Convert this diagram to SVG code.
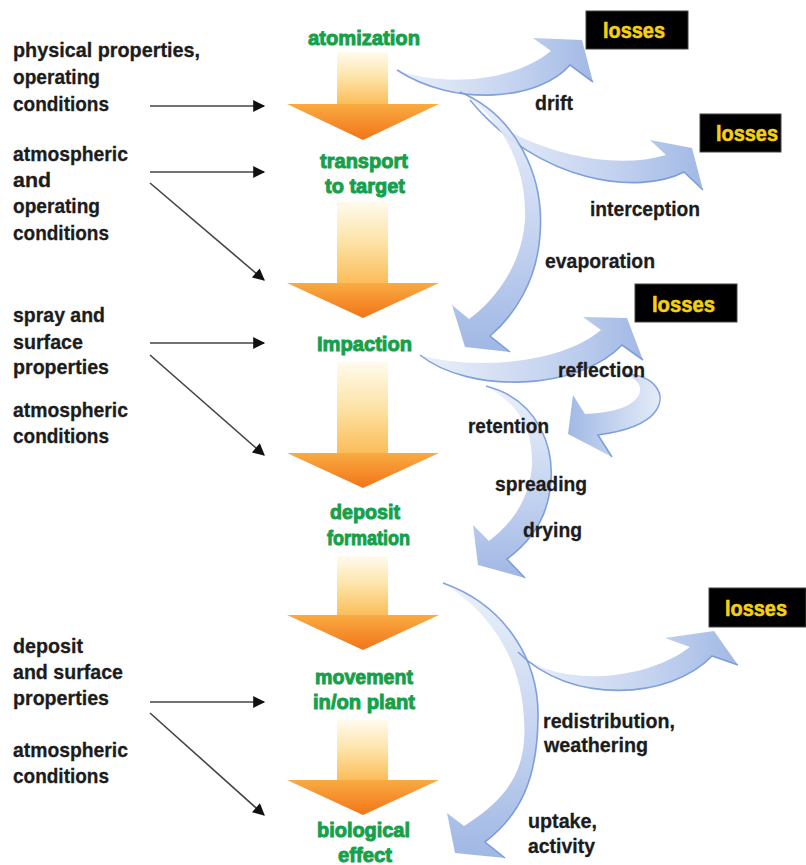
<svg xmlns="http://www.w3.org/2000/svg" width="806" height="865" viewBox="0 0 806 865">
<defs>
<style>
.lt{font-family:"Liberation Sans","DejaVu Sans",sans-serif;font-weight:bold;font-size:21px;fill:#1c1c1c;stroke:#1c1c1c;stroke-width:0.3}
.st{font-family:"Liberation Sans","DejaVu Sans",sans-serif;font-weight:bold;font-size:21px;fill:#16a04a;stroke:#16a04a;stroke-width:1;text-anchor:start}
.ls{font-family:"Liberation Sans","DejaVu Sans",sans-serif;font-weight:bold;font-size:22px;fill:#f5cf14;stroke:#f5cf14;stroke-width:0.6}
.box{fill:#000;stroke:#444;stroke-width:1}
.inp{stroke:#444;stroke-width:1.6;fill:none;marker-end:url(#ah)}
.shaft{fill:url(#og1)}
.head{fill:url(#og2)}
.edge{fill:none;stroke:#6f93d6;stroke-width:1.6;stroke-opacity:0.85}
</style>
<linearGradient id="og1" x1="0" y1="0" x2="0" y2="1">
<stop offset="0" stop-color="#fffbee"/>
<stop offset="0.5" stop-color="#fde3a6"/>
<stop offset="1" stop-color="#fbbd5a"/>
</linearGradient>
<linearGradient id="og2" x1="0" y1="0" x2="0" y2="1">
<stop offset="0" stop-color="#f9ab42"/>
<stop offset="1" stop-color="#f27418"/>
</linearGradient>
<linearGradient id="bh" x1="0" y1="0" x2="1" y2="0">
<stop offset="0" stop-color="#eaf0fa"/>
<stop offset="0.6" stop-color="#bfcfee"/>
<stop offset="1" stop-color="#9ab3e3"/>
</linearGradient>
<linearGradient id="bhr" x1="1" y1="0" x2="0" y2="0">
<stop offset="0" stop-color="#e2eaf8"/>
<stop offset="1" stop-color="#9ab3e3"/>
</linearGradient>
<linearGradient id="bv" x1="0" y1="0" x2="0" y2="1">
<stop offset="0" stop-color="#eaf0fa"/>
<stop offset="0.6" stop-color="#bccdee"/>
<stop offset="1" stop-color="#98b1e2"/>
</linearGradient>
<marker id="ah" viewBox="0 0 10 10" refX="9" refY="5" markerWidth="15" markerHeight="12" markerUnits="userSpaceOnUse" orient="auto">
<path d="M0,0 L10,5 L0,10 z" fill="#111"/>
</marker>
</defs>
<rect width="806" height="865" fill="#fff"/>

<g id="connectors">
  <g id="orange-arrows">
    <rect class="shaft" x="337" y="52" width="51" height="52"/>
    <path class="head" d="M287,104 L439,104 L363,140 Z"/>
    <rect class="shaft" x="337" y="201" width="51" height="82"/>
    <path class="head" d="M287,283 L439,283 L363,318 Z"/>
    <rect class="shaft" x="337" y="362" width="51" height="91"/>
    <path class="head" d="M287,453 L439,453 L363,488 Z"/>
    <rect class="shaft" x="337" y="556" width="51" height="59"/>
    <path class="head" d="M287,615 L439,615 L363,650 Z"/>
    <rect class="shaft" x="337" y="720" width="51" height="60"/>
    <path class="head" d="M287,780 L439,780 L363,815 Z"/>
  </g>
  <g id="input-arrows">
    <line class="inp" x1="150" y1="106" x2="264" y2="106"/>
    <line class="inp" x1="150" y1="172" x2="264" y2="172"/>
    <line class="inp" x1="150" y1="183" x2="264" y2="280"/>
    <line class="inp" x1="150" y1="343" x2="264" y2="343"/>
    <line class="inp" x1="150" y1="355" x2="264" y2="455"/>
    <line class="inp" x1="150" y1="702" x2="264" y2="702"/>
    <line class="inp" x1="150" y1="713" x2="264" y2="815"/>
  </g>
  <g id="swooshes" fill-opacity="0.92">
    <g id="sw-drift">
      <path fill="url(#bh)" d="M397,70 C440,86 510,84 551,51 L533,38 L582,40 L593,82 L570,65 C540,100 455,108 397,70 Z"/>
      <path class="edge" d="M593,82 L570,65 C540,100 455,108 397,70"/>
    </g>
    <g id="sw-interception">
      <path fill="url(#bh)" d="M470,100 C500,140 600,175 666,155 L650,140 L692,148 L703,190 L684,172 C640,195 540,185 470,100 Z"/>
      <path class="edge" d="M703,190 L684,172 C640,195 540,185 470,100"/>
    </g>
    <g id="sw-evaporation">
      <path fill="url(#bv)" d="M460,92 C515,115 545,175 540,235 C537,280 515,315 490,336 L510,352 L465,347 L452,305 L469,319 C495,300 522,265 525,220 C527,170 505,120 460,92 Z"/>
      <path class="edge" d="M460,92 C515,115 545,175 540,235 C537,280 515,315 490,336 L510,352"/>
    </g>
    <g id="sw-spreading">
      <path fill="url(#bv)" d="M486,386 C540,400 556,450 550,490 C546,520 530,542 507,559 L525,578 L478,565 L473,525 L489,541 C510,525 530,500 532,465 C533,430 520,405 486,386 Z"/>
      <path class="edge" d="M486,386 C540,400 556,450 550,490 C546,520 530,542 507,559 L525,578"/>
    </g>
    <g id="sw-reflection">
      <path fill="url(#bh)" d="M420,355 C470,370 560,365 601,330 L583,317 L627,318 L643,360 L622,345 C580,390 470,395 420,355 Z"/>
      <path class="edge" d="M643,360 L622,345 C580,390 470,395 420,355"/>
    </g>
    <g id="sw-retention">
      <path fill="url(#bhr)" d="M625,374 C655,375 668,395 655,412 C645,425 620,432 598,435 L612,457 L568,434 L573,395 L585,414 C605,413 625,410 635,400 C645,390 640,380 625,374 Z"/>
      <path class="edge" d="M625,374 C655,375 668,395 655,412 C645,425 620,432 598,435 L612,457"/>
    </g>
    <g id="sw-redistribution">
      <path fill="url(#bv)" d="M443,583 C505,605 540,660 538,720 C537,780 520,815 485,842 L505,858 L455,853 L447,813 L464,826 C505,800 528,772 524,720 C522,665 495,615 443,583 Z"/>
      <path class="edge" d="M443,583 C505,605 540,660 538,720 C537,780 520,815 485,842 L505,858"/>
    </g>
    <g id="sw-weathering-loss">
      <path fill="url(#bh)" d="M518,652 C550,685 640,685 690,647 L665,638 L714,631 L738,665 L712,656 C670,700 570,705 518,652 Z"/>
      <path class="edge" d="M738,665 L712,656 C670,700 570,705 518,652"/>
    </g>
  </g>
  <g id="connector-labels" class="lt">
    <text x="535" y="110" textLength="38" lengthAdjust="spacingAndGlyphs">drift</text>
    <text x="590" y="216" textLength="110" lengthAdjust="spacingAndGlyphs">interception</text>
    <text x="545" y="268" textLength="110" lengthAdjust="spacingAndGlyphs">evaporation</text>
    <text x="558" y="377" textLength="87" lengthAdjust="spacingAndGlyphs">reflection</text>
    <text x="468" y="433" textLength="81" lengthAdjust="spacingAndGlyphs">retention</text>
    <text x="495" y="491" textLength="92" lengthAdjust="spacingAndGlyphs">spreading</text>
    <text x="523" y="537" textLength="59" lengthAdjust="spacingAndGlyphs">drying</text>
    <text x="543" y="728" textLength="132" lengthAdjust="spacingAndGlyphs">redistribution,</text>
    <text x="544" y="752" textLength="104" lengthAdjust="spacingAndGlyphs">weathering</text>
    <text x="528" y="828" textLength="69" lengthAdjust="spacingAndGlyphs">uptake,</text>
    <text x="528" y="853" textLength="67" lengthAdjust="spacingAndGlyphs">activity</text>
  </g>
</g>

<g id="node-atomization"><text class="st" x="308" y="45" textLength="112" lengthAdjust="spacingAndGlyphs">atomization</text></g>
<g id="node-transport">
  <text class="st" x="320" y="168" textLength="88" lengthAdjust="spacingAndGlyphs">transport</text>
  <text class="st" x="325" y="193" textLength="80" lengthAdjust="spacingAndGlyphs">to target</text>
</g>
<g id="node-impaction"><text class="st" x="317" y="351" textLength="95" lengthAdjust="spacingAndGlyphs">Impaction</text></g>
<g id="node-deposit">
  <text class="st" x="330" y="519" textLength="70" lengthAdjust="spacingAndGlyphs">deposit</text>
  <text class="st" x="327" y="545" textLength="83" lengthAdjust="spacingAndGlyphs">formation</text>
</g>
<g id="node-movement">
  <text class="st" x="315" y="684" textLength="98" lengthAdjust="spacingAndGlyphs">movement</text>
  <text class="st" x="313" y="709" textLength="102" lengthAdjust="spacingAndGlyphs">in/on plant</text>
</g>
<g id="node-biological">
  <text class="st" x="317" y="837" textLength="93" lengthAdjust="spacingAndGlyphs">biological</text>
  <text class="st" x="338" y="862" textLength="54" lengthAdjust="spacingAndGlyphs">effect</text>
</g>

<g id="node-input1" class="lt">
  <text x="13" y="57" textLength="187" lengthAdjust="spacingAndGlyphs">physical properties,</text>
  <text x="13" y="84" textLength="87" lengthAdjust="spacingAndGlyphs">operating</text>
  <text x="13" y="111" textLength="96" lengthAdjust="spacingAndGlyphs">conditions</text>
</g>
<g id="node-input2" class="lt">
  <text x="13" y="161" textLength="115" lengthAdjust="spacingAndGlyphs">atmospheric</text>
  <text x="13" y="187" textLength="38" lengthAdjust="spacingAndGlyphs">and</text>
  <text x="13" y="213" textLength="87" lengthAdjust="spacingAndGlyphs">operating</text>
  <text x="13" y="240" textLength="96" lengthAdjust="spacingAndGlyphs">conditions</text>
</g>
<g id="node-input3" class="lt">
  <text x="13" y="322" textLength="92" lengthAdjust="spacingAndGlyphs">spray and</text>
  <text x="13" y="349" textLength="70" lengthAdjust="spacingAndGlyphs">surface</text>
  <text x="13" y="374" textLength="96" lengthAdjust="spacingAndGlyphs">properties</text>
</g>
<g id="node-input4" class="lt">
  <text x="13" y="417" textLength="115" lengthAdjust="spacingAndGlyphs">atmospheric</text>
  <text x="13" y="443" textLength="96" lengthAdjust="spacingAndGlyphs">conditions</text>
</g>
<g id="node-input5" class="lt">
  <text x="13" y="653" textLength="70" lengthAdjust="spacingAndGlyphs">deposit</text>
  <text x="13" y="679" textLength="110" lengthAdjust="spacingAndGlyphs">and surface</text>
  <text x="13" y="705" textLength="96" lengthAdjust="spacingAndGlyphs">properties</text>
</g>
<g id="node-input6" class="lt">
  <text x="13" y="757" textLength="115" lengthAdjust="spacingAndGlyphs">atmospheric</text>
  <text x="13" y="783" textLength="96" lengthAdjust="spacingAndGlyphs">conditions</text>
</g>

<g id="node-losses1"><rect class="box" x="586" y="11" width="102" height="38"/><text class="ls" x="603" y="38" textLength="62" lengthAdjust="spacingAndGlyphs">losses</text></g>
<g id="node-losses2"><rect class="box" x="700" y="114" width="81" height="38"/><text class="ls" x="716" y="141" textLength="62" lengthAdjust="spacingAndGlyphs">losses</text></g>
<g id="node-losses3"><rect class="box" x="635" y="284" width="102" height="38"/><text class="ls" x="652" y="312" textLength="63" lengthAdjust="spacingAndGlyphs">losses</text></g>
<g id="node-losses4"><rect class="box" x="709" y="588" width="97" height="39"/><text class="ls" x="725" y="616" textLength="62" lengthAdjust="spacingAndGlyphs">losses</text></g>
</svg>
